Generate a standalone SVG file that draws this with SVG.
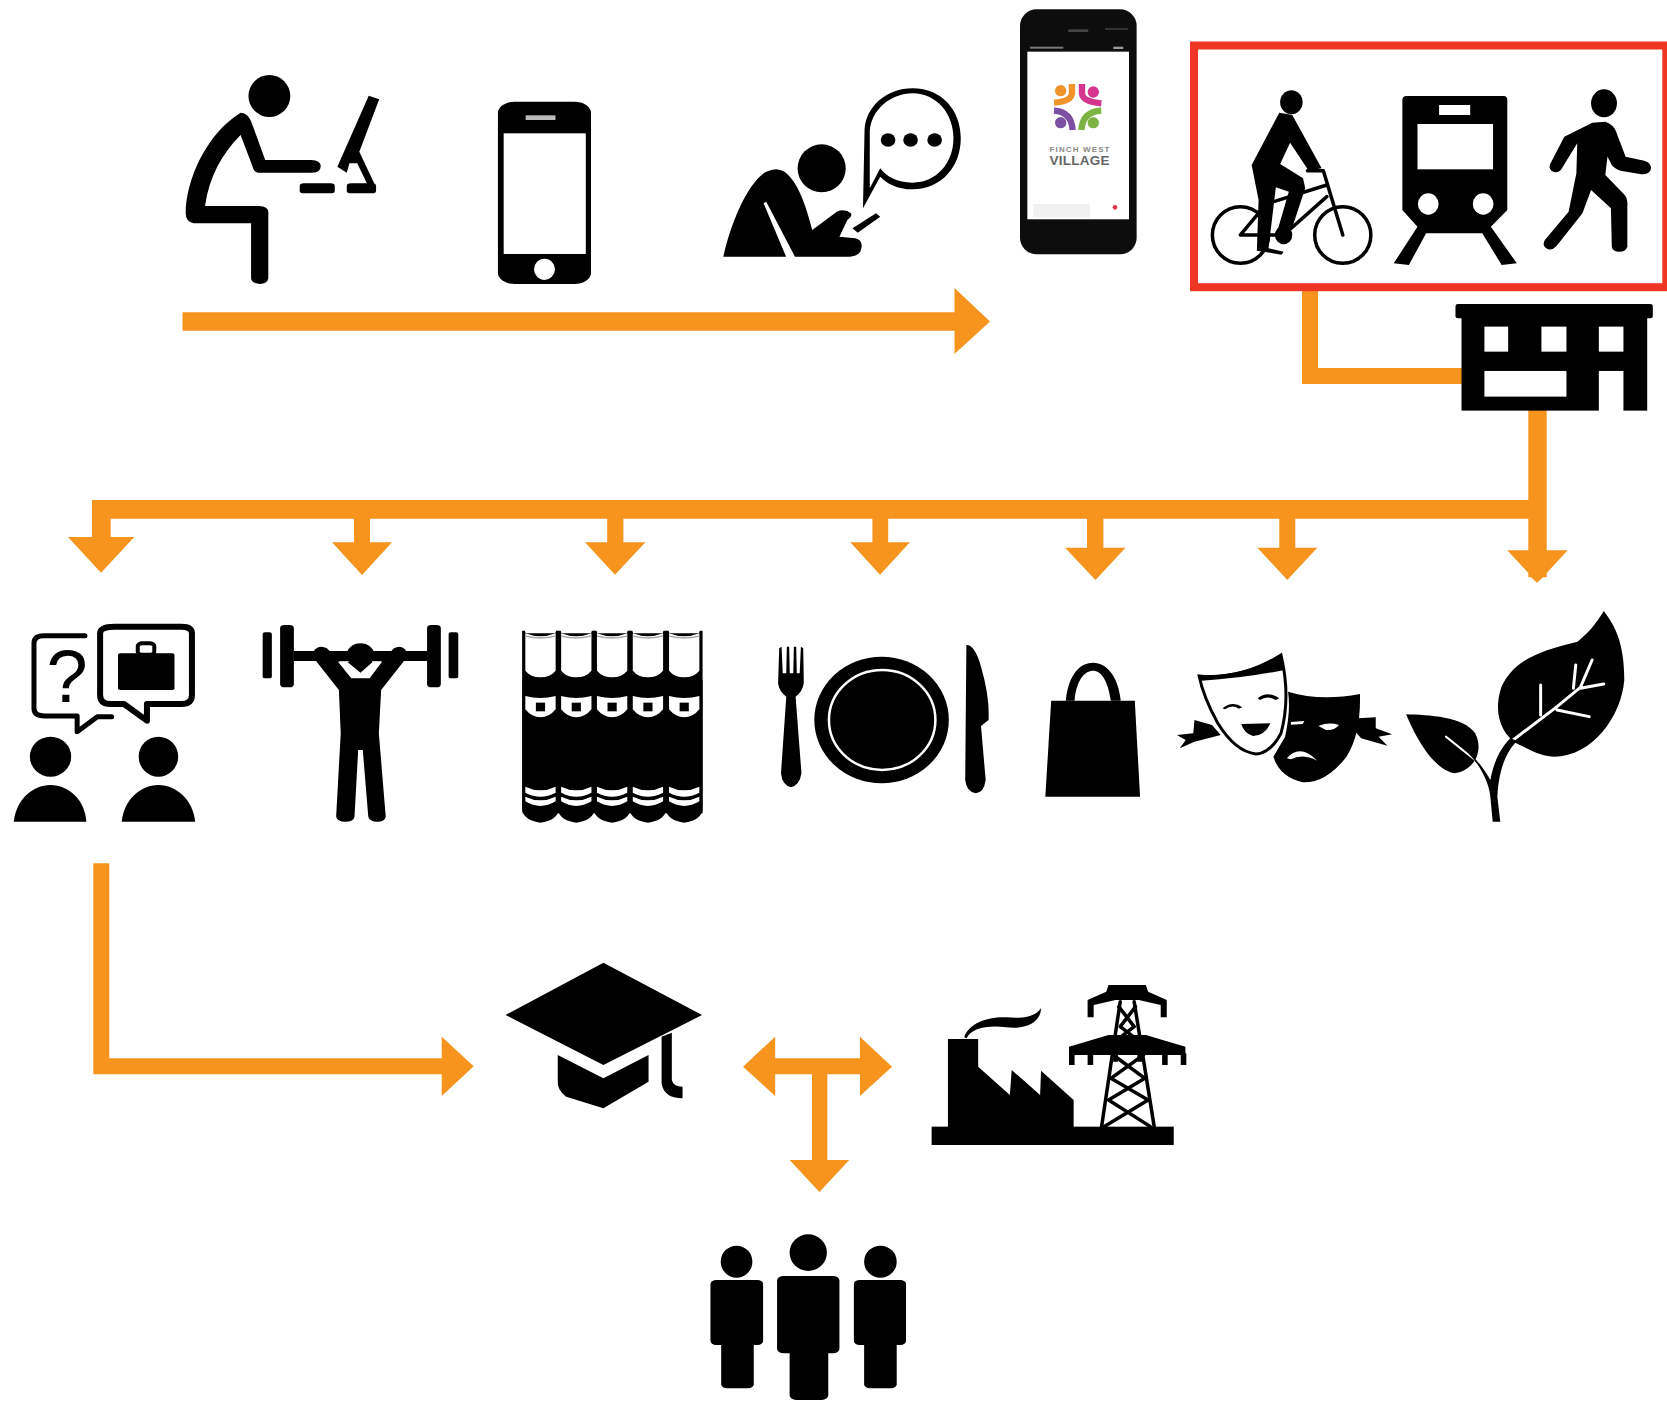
<svg xmlns="http://www.w3.org/2000/svg" width="1667" height="1401" viewBox="0 0 1667 1401">
<defs>
<filter id="soft" x="-5%" y="-5%" width="110%" height="110%"><feGaussianBlur stdDeviation="0.75"/></filter>
<g id="book">
<path d="M-1 92L5 92L7 100L71 100L73 92L79 92L79 630Q74 662 39 668Q4 662 -1 630Z"/>
<path class="w" d="M6 100Q39 118 72 100L72 212Q60 232 39 232Q18 232 6 212Z"/>
<path fill="#aaa" d="M6 106Q39 118 72 106L72 110Q39 122 6 110Z"/>
<path class="w" d="M6 288Q39 300 72 288L72 328Q58 352 39 352Q20 352 6 328Z"/>
<rect x="29" y="308" width="20" height="26"/>
<path class="w" d="M6 560Q39 582 72 560L72 578Q39 602 6 578Z"/>
<path class="w" d="M6 590Q39 612 72 590L72 604Q39 632 6 604Z"/>
</g>
</defs>
<style>
.c{fill:#f7941e}
.w{fill:#fff}
.icon{filter:url(#soft)}
.ln,.ln *{fill:none;stroke:#000;vector-effect:non-scaling-stroke;stroke-linecap:round;stroke-linejoin:round}
.wl{fill:none;stroke:#fff;vector-effect:non-scaling-stroke;stroke-linecap:round}
</style>
<rect width="1667" height="1401" fill="#fff"/>

<g id="connectors">
<path class="c" d="M182.500 312.300H954.500V288L990 321.500L954.500 354V330.700H182.500Z"/>
<path class="c" d="M1302 291H1318V368H1465V384H1302Z"/>
<path class="c" d="M1528.300 405H1546.700V550.300H1567.700L1546.700 573V577.300H1543L1537 582.700L1531 577.300H1528.300V573L1507.300 550.300H1528.300V518.700H110.700V537H134.300L101 572.700L68 537H92V500H1528.300Z"/>
<path class="c" d="M354 515H370V542.300H392L362 575L332 542.300H354Z"/>
<path class="c" d="M607.200 515H623.400V542.300H645.400L615 574.700L585 542.300H607.200Z"/>
<path class="c" d="M872.400 515H888.200V542.300H910L880 574.700L850.300 542.300H872.400Z"/>
<path class="c" d="M1087 515H1103.400V547.700H1125.500L1095.500 580L1065 547.700H1087Z"/>
<path class="c" d="M1279.300 515H1295.300V547.700H1317.300L1287.300 580L1257.300 547.700H1279.300Z"/>
<path class="c" d="M93.300 863.300H109.300V1058.300H441.700V1036.700L473.700 1066.300L441.700 1096V1074.300H93.300Z"/>
<g transform="translate(480 940) scale(.4656 .3333)"><path class="c" d="M565 380L634 290V355H816V290L885 380L816 468V403H746V660H793L729 756L665 660H713V403H634V468Z"/></g>
</g>

<g id="frame"><rect x="1194" y="45.500" width="472.300" height="241.700" fill="none" stroke="#ef3524" stroke-width="8"/></g>

<g id="person-desk" class="icon"><g transform="translate(170 0) scale(.523 .3333)">
<ellipse cx="190" cy="288" rx="40" ry="63"/>
<path d="M135 338C150 340 155 360 160 385L182 480L270 480Q290 482 288 500Q288 518 270 518L168 518Q160 515 158 500L135 405C100 460 75 530 67 618L170 618Q188 620 188 635L188 835Q186 852 172 852Q155 850 155 835L155 670L45 670Q30 665 30 640C30 540 70 400 135 338Z"/>
<path d="M380 287L400 298L362 455L392 555L378 555L358 490L343 490L338 518L320 500Z"/>
<rect x="248" y="550" width="67" height="30" rx="8" ry="8"/>
<rect x="338" y="550" width="56" height="30" rx="8" ry="8"/>
</g></g>

<g id="phone" class="icon"><g transform="translate(170 0) scale(.523 .3333)">
<rect x="627" y="305" width="178" height="547" rx="32" ry="34"/>
<rect class="w" x="638" y="400" width="157" height="362"/>
<rect x="680" y="346" width="57" height="14" fill="#bbb"/>
<ellipse class="w" cx="716" cy="808" rx="20" ry="32"/>
</g></g>

<g id="person-texting" class="icon"><g transform="translate(170 0) scale(.523 .3333)">
<ellipse cx="1246" cy="505" rx="46" ry="72"/>
<path d="M1058 770C1075 650 1110 540 1140 515Q1160 500 1175 515C1200 545 1215 610 1228 690L1275 635Q1290 625 1302 640Q1305 650 1295 660L1280 710L1310 715Q1325 720 1322 745Q1320 768 1300 770L1195 770L1140 605L1135 610L1178 770Z"/>
<path fill-rule="evenodd" d="M1325 625L1328 390C1330 320 1370 265 1420 265C1475 265 1512 330 1512 415C1512 500 1475 568 1420 568C1390 568 1370 550 1358 530ZM1338 565L1358 505C1370 530 1390 548 1420 548C1465 548 1498 490 1498 415C1498 340 1465 280 1420 280C1378 280 1340 330 1338 395Z"/>
<ellipse cx="1373" cy="420" rx="14" ry="20"/><ellipse cx="1416" cy="420" rx="14" ry="20"/><ellipse cx="1462" cy="420" rx="14" ry="20"/>
<path d="M1305 685L1350 640L1358 650L1315 698Z"/>
</g></g>

<g id="app-phone"><g class="icon"><g transform="translate(1000 0) scale(.3333)">
<rect x="60" y="28" width="350" height="735" rx="50" ry="50" fill="#0b0b0b"/>
<rect class="w" x="82" y="155" width="305" height="503"/>
<rect x="90" y="140" width="100" height="6" fill="#777"/><rect x="340" y="140" width="30" height="7" fill="#999"/>
<rect x="205" y="88" width="60" height="8" fill="#444"/><rect x="315" y="84" width="70" height="6" fill="#333"/>
<rect x="100" y="612" width="170" height="40" fill="#f1f1f1"/>
<circle cx="345" cy="622" r="7" fill="#e0354a"/>
<circle cx="182" cy="272" r="17" fill="#f0932b"/>
<path d="M216 252V280Q214 305 162 308" fill="none" stroke="#f0932b" stroke-width="19"/>
<circle cx="280" cy="276" r="17" fill="#d6348f"/>
<path d="M246 252V282Q250 305 304 310" fill="none" stroke="#d6348f" stroke-width="19"/>
<circle cx="182" cy="368" r="17" fill="#7b4fa3"/>
<path d="M162 332Q214 335 218 390" fill="none" stroke="#7b4fa3" stroke-width="19"/>
<circle cx="280" cy="368" r="17" fill="#7cb342"/>
<path d="M304 332Q248 335 244 390" fill="none" stroke="#7cb342" stroke-width="19"/>
</g></g>
<text x="1079.500" y="152" font-family="'Liberation Sans',Arial,sans-serif" font-size="8" font-weight="700" fill="#888" text-anchor="middle" textLength="60">FINCH WEST</text>
<text x="1079.500" y="165" font-family="'Liberation Sans',Arial,sans-serif" font-size="13.500" font-weight="700" fill="#666" text-anchor="middle" textLength="60">VILLAGE</text>
</g>

<g id="bike" class="icon"><g transform="translate(990 0) scale(.4318 .3333)">
<ellipse cx="698" cy="307" rx="26" ry="36"/>
<path d="M670 338L700 345L768 505L738 512L695 428L672 492L725 535L730 565L698 690L665 695L692 575L662 562L645 745L680 755L675 764L618 752L622 600L606 495Z"/>
<ellipse cx="680" cy="705" rx="20" ry="28"/>
<g class="ln" stroke-width="3.500">
<ellipse cx="580" cy="705" rx="65" ry="85"/><ellipse cx="817" cy="705" rx="65" ry="85"/>
<path d="M735 512L772 512L817 705M580 705L640 612L780 555M680 705L780 590M580 705L680 705"/>
</g>
</g></g>

<g id="train" class="icon"><g transform="translate(990 0) scale(.4318 .3333)">
<path d="M955 300Q955 288 965 288L1190 288Q1198 288 1198 300L1198 630L1160 680L1220 790L1185 795L1140 700L1010 700L970 795L935 790L990 680L955 630Z"/>
<rect class="w" x="990" y="372" width="175" height="136"/>
<rect class="w" x="1040" y="315" width="72" height="30"/>
<ellipse class="w" cx="1015" cy="612" rx="24" ry="32"/><ellipse class="w" cx="1142" cy="612" rx="24" ry="32"/>
</g></g>

<g id="walker" class="icon"><g transform="translate(990 0) scale(.4318 .3333)">
<ellipse cx="1422" cy="310" rx="30" ry="42"/>
<path d="M1395 368L1425 365Q1445 375 1450 395L1472 470L1515 482Q1535 490 1530 510Q1525 525 1505 522L1460 512Q1445 505 1440 495L1430 470L1425 525L1470 585Q1478 600 1476 620L1476 740Q1472 755 1458 755Q1442 755 1440 740L1438 625L1392 570L1372 640L1312 738Q1300 755 1288 745Q1278 735 1285 720L1340 635L1358 520L1360 430L1322 510Q1312 522 1300 512Q1292 500 1300 485L1330 410Z"/>
</g></g>

<g id="building" class="icon"><g transform="translate(990 0) scale(.4318 .3333)">
<rect x="1078" y="912" width="457" height="43" rx="6" ry="6"/>
<rect x="1092" y="950" width="430" height="282"/>
<rect class="w" x="1145" y="980" width="55" height="75"/><rect class="w" x="1277" y="980" width="58" height="75"/><rect class="w" x="1410" y="980" width="57" height="75"/>
<rect class="w" x="1145" y="1113" width="190" height="77"/><rect class="w" x="1410" y="1113" width="57" height="122"/>
</g></g>

<g id="career-talk" class="icon">
<g transform="translate(0 600) scale(.4592 .3333)">
<ellipse cx="110" cy="470" rx="45" ry="60"/><ellipse cx="345" cy="470" rx="43" ry="60"/>
<path d="M30 665C35 600 70 555 110 555C150 555 185 600 188 665Z"/>
<path d="M265 665C270 600 305 555 345 555C385 555 420 600 425 665Z"/>
<path class="ln" stroke-width="5" d="M185 107L95 107Q74 107 74 130L74 325Q74 348 97 348L168 348L168 395L212 350L243 350"/>
<path class="ln" stroke-width="6" d="M250 80L395 80Q418 80 418 100L418 285Q418 312 395 312L320 312L320 362L270 312L240 312Q218 312 218 285L218 100Q218 80 250 80Z"/>
<rect x="257" y="160" width="123" height="110" rx="5" ry="5"/>
<rect class="ln" stroke-width="4" x="300" y="130" width="36" height="34" rx="10" ry="8"/>
</g>
<text x="67" y="702" font-family="'Liberation Sans',Arial,sans-serif" font-size="74" text-anchor="middle">?</text>
</g>

<g id="weightlifter" class="icon"><g transform="translate(0 600) scale(.4592 .3333)">
<rect x="572" y="97" width="20" height="138" rx="5" ry="5"/><rect x="977" y="97" width="21" height="138" rx="5" ry="5"/>
<rect x="610" y="75" width="30" height="187" rx="10" ry="10"/><rect x="930" y="75" width="30" height="187" rx="10" ry="10"/>
<rect x="640" y="153" width="290" height="30"/>
<ellipse cx="785" cy="165" rx="30" ry="35"/>
<path d="M678 165Q690 130 712 145L740 185L830 185L858 145Q878 130 890 165L830 270L825 400L840 650Q838 665 822 665Q805 665 802 650L790 450L780 450L772 650Q770 665 752 665Q735 665 732 650L742 400L738 270Z"/>
<path class="w" d="M736 185L756 185L785 218L812 185L832 185L805 235L765 235Z"/>
</g></g>

<g id="books" class="icon"><g transform="translate(0 600) scale(.4592 .3333)">
<rect x="1138" y="240" width="392" height="400"/>
<use href="#book" x="1138"/><use href="#book" x="1216"/><use href="#book" x="1294"/><use href="#book" x="1372"/><use href="#book" x="1451"/>
</g></g>

<g id="dining" class="icon"><g transform="translate(750 600) scale(.5848 .3333)">
<path d="M50 145L54 140L56 220L62 220L63 140L67 140L68 220L74 220L75 140L79 140L80 220L85 220L87 140L91 145L92 250Q90 275 78 290L88 520Q85 555 70 562Q55 555 53 520L62 290Q50 275 48 250Z"/>
<ellipse cx="225" cy="360" rx="115" ry="190"/>
<ellipse class="wl" cx="226" cy="360" rx="91" ry="150" stroke-width="2.500"/>
<path d="M370 135Q385 135 395 200Q410 290 408 360L395 378L403 540Q400 578 386 580Q370 575 368 540Z"/>
</g></g>

<g id="bag" class="icon"><g transform="translate(750 600) scale(.5848 .3333)">
<path d="M515 302L658 302L667 590L505 590Z"/>
<path d="M540 302C545 220 565 188 587 188C610 188 630 230 634 302L617 302C612 240 600 212 587 212C572 212 558 240 555 302Z"/>
</g></g>

<g id="theatre" class="icon"><g transform="translate(750 600) scale(.5848 .3333)">
<path d="M730 405L758 400L760 360L790 375L805 405L760 425L735 445L745 420Z"/>
<path d="M1040 355L1070 352L1070 385L1098 403L1075 410L1090 437L1045 415L1030 385Z"/>
<path class="w" stroke="#000" stroke-width="3" style="vector-effect:non-scaling-stroke" d="M768 228Q840 240 908 165Q925 290 908 400Q890 460 865 462Q830 455 800 370Q775 290 768 228Z"/>
<path d="M768 225Q840 232 908 165L914 210Q840 235 772 242Z"/>
<path d="M808 325Q825 300 842 322L836 326Q825 312 812 328Z"/><path d="M868 295Q885 270 905 295L899 300Q885 285 872 300Z"/>
<path d="M840 372L890 370Q880 408 860 408Q845 400 840 372Z"/>
<path d="M920 275Q975 305 1043 282Q1045 400 1020 470Q985 550 945 547Q905 530 895 470L915 410Q925 330 920 275Z"/>
<path class="w" d="M925 366L948 363L945 372L925 374Z"/><path class="w" d="M972 378Q990 365 1007 375Q1000 392 985 390Z"/>
<path class="w" d="M918 475Q940 430 970 482Q945 460 925 478Z"/>
</g></g>

<g id="plant" class="icon"><g transform="translate(750 600) scale(.5848 .3333)">
<path d="M1460 33C1480 80 1495 130 1495 240C1490 350 1440 470 1375 470C1350 470 1325 440 1310 430C1285 400 1270 340 1285 260C1310 170 1360 150 1415 125C1440 90 1450 60 1460 33Z"/>
<path class="wl" stroke-width="3" d="M1305 420L1380 320L1420 262L1440 180M1380 330L1435 350M1420 265L1460 252M1352 345L1352 255M1408 265L1412 195"/>
<path d="M1122 343C1160 345 1220 350 1240 400C1255 450 1240 510 1205 520C1170 510 1140 420 1122 343Z"/>
<path class="wl" stroke-width="2" d="M1190 410L1240 480"/>
<path d="M1195 410C1230 450 1262 520 1266 590L1270 665L1283 665L1278 590C1280 520 1290 460 1312 422L1300 415C1280 450 1270 500 1266 540C1250 490 1225 440 1195 410Z"/>
</g></g>

<g id="graduation" class="icon"><g transform="translate(480 940) scale(.4656 .3333)">
<path d="M265 68L477 225L265 375L55 225Z"/>
<path d="M167 345L265 415L362 345L362 425L265 505L185 470Q165 450 167 420Z"/>
<path d="M390 290L412 278L412 420Q415 440 435 440L435 475Q395 475 390 430Z"/>
</g></g>

<g id="industry" class="icon"><g transform="translate(480 940) scale(.4656 .3333)">
<rect x="970" y="560" width="520" height="55"/>
<path d="M1005 297L1070 297L1070 380L1138 465L1142 390L1203 465L1205 392L1275 480L1275 565L1005 565Z"/>
<path d="M1040 292C1050 250 1090 230 1130 232C1160 235 1190 235 1205 205C1205 240 1180 270 1130 262C1090 255 1055 265 1045 295Z"/>
<path d="M1350 135L1430 135L1435 155L1475 180L1475 232L1462 232L1462 195L1415 180L1365 180L1318 195L1318 232L1305 232L1305 180L1345 155Z"/>
<path d="M1265 320L1350 285L1430 285L1515 320L1515 345L1265 345Z"/>
<path d="M1265 340h12v35h-12zM1305 340h12v35h-12zM1360 340h10v25h-10zM1412 340h10v25h-10zM1465 340h12v35h-12zM1505 340h12v35h-12z"/>
<g class="ln" stroke-width="3.500">
<path d="M1375 185L1335 560M1405 185L1448 560"/>
<path d="M1372 200L1405 260L1368 300M1408 200L1375 260L1412 300"/>
<path d="M1360 345L1428 415L1350 480L1440 560M1425 345L1355 415L1435 480L1340 560"/>
</g>
</g></g>

<g id="people" class="icon"><g transform="translate(480 940) scale(.4656 .3333)">
<ellipse cx="551" cy="965" rx="34" ry="48"/><rect x="495" y="1020" width="113" height="195" rx="12" ry="12"/><rect x="518" y="1200" width="70" height="145" rx="12" ry="12"/>
<ellipse cx="860" cy="965" rx="35" ry="48"/><rect x="803" y="1020" width="112" height="195" rx="12" ry="12"/><rect x="825" y="1200" width="70" height="145" rx="12" ry="12"/>
<ellipse cx="705" cy="938" rx="40" ry="55"/><rect x="638" y="1008" width="134" height="232" rx="14" ry="14"/><rect x="665" y="1220" width="83" height="160" rx="14" ry="14"/>
</g></g>
</svg>
